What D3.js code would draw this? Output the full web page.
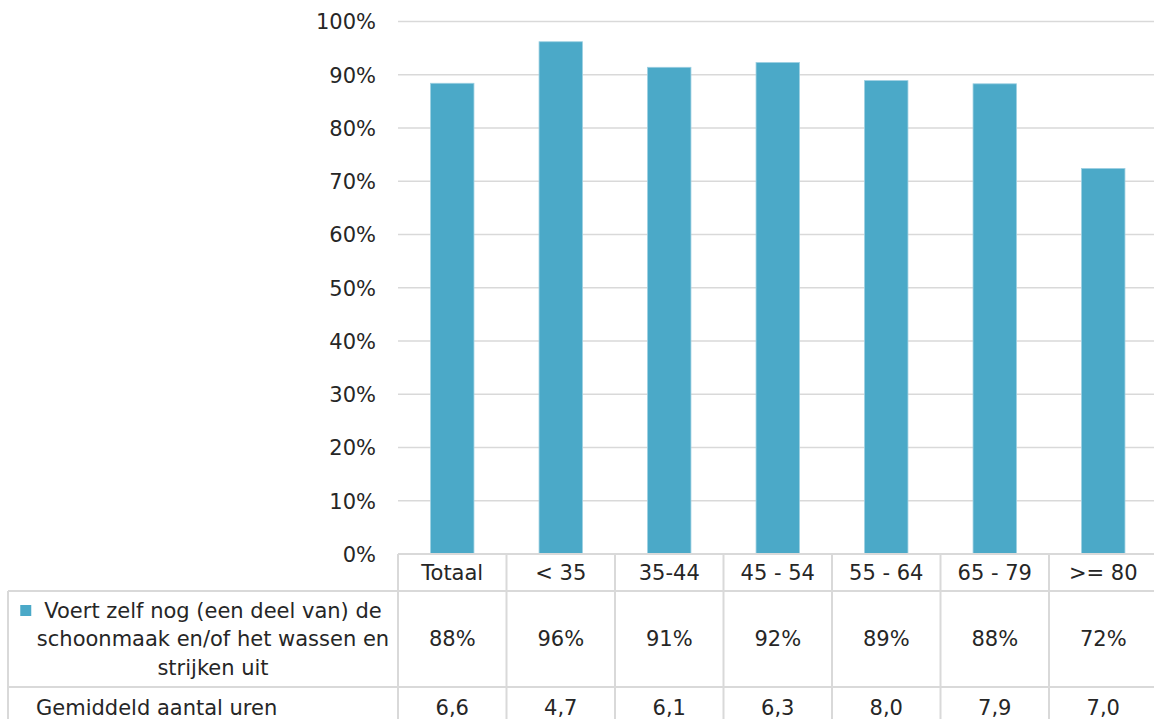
<!DOCTYPE html>
<html>
<head>
<meta charset="utf-8">
<script src="https://cdn.jsdelivr.net/npm/d3@7/dist/d3.min.js"></script>
<style>
  html, body { margin: 0; padding: 0; background: #fff; overflow: hidden; }
  svg { display: block; font-family: "DejaVu Sans", Verdana, sans-serif; }
</style>
</head>
<body>
<svg id="chart" width="1154" height="719"></svg>
<script>
// Age groups and values
const categories = ["Totaal", "< 35", "35-44", "45 - 54", "55 - 64", "65 - 79", ">= 80"];
const shareDoingOwn = [0.884, 0.962, 0.914, 0.923, 0.889, 0.883, 0.724];
const avgHours = [6.6, 4.7, 6.1, 6.3, 8.0, 7.9, 7.0];
const yTicks = [0, 0.1, 0.2, 0.3, 0.4, 0.5, 0.6, 0.7, 0.8, 0.9, 1.0];
const seriesLabel = ["Voert zelf nog (een deel van) de", "schoonmaak en/of het wassen en", "strijken uit"];
const hoursLabel = "Gemiddeld aantal uren";

const W = 1154, H = 719;
// the last column runs slightly past the right edge of the canvas
const plot = { left: 398, right: 1157.5, top: 21.5, bottom: 554 };
const table = { left: 8, row1: 554, row2: 591, row3: 687, bottom: 719 };
const barColor = "#4BA9C8";
const gridColor = "#D9D9D9";
const textColor = "#262626";
const fontSize = 21;

const nl = d3.formatLocale({ decimal: ",", thousands: ".", grouping: [3], currency: ["€", ""] });
const fmtPct = nl.format(".0%");
const fmtHours = nl.format(".1f");

const svg = d3.select("#chart");

const x = d3.scaleBand().domain(categories).range([plot.left, plot.right]).paddingInner(0).paddingOuter(0);
const y = d3.scaleLinear().domain([0, 1]).range([plot.bottom, plot.top]);
const barW = x.bandwidth() * 0.4;

// Gridlines
svg.append("g").selectAll("line").data(yTicks).join("line")
  .attr("x1", plot.left).attr("x2", plot.right)
  .attr("y1", d => y(d)).attr("y2", d => y(d))
  .attr("stroke", gridColor).attr("stroke-width", 1.5);

// Y axis labels
const yAxis = d3.axisLeft(y).tickValues(yTicks).tickFormat(fmtPct).tickSize(0).tickPadding(0);
const gy = svg.append("g").attr("transform", `translate(${plot.left - 22},0)`).call(yAxis);
gy.select(".domain").remove();
gy.selectAll("text")
  .attr("font-size", fontSize).attr("font-family", "DejaVu Sans, Verdana, sans-serif")
  .attr("fill", textColor).attr("dy", "0.35em");

// Bars
svg.append("g").selectAll("rect").data(categories).join("rect")
  .attr("x", (d) => x(d) + (x.bandwidth() - barW) / 2)
  .attr("width", barW)
  .attr("y", (d, i) => y(shareDoingOwn[i]))
  .attr("height", (d, i) => y(0) - y(shareDoingOwn[i]))
  .attr("fill", barColor)
  .attr("stroke", "#9ccfe1").attr("stroke-width", 0.8);

// Data table lines
const tl = svg.append("g").attr("stroke", gridColor).attr("stroke-width", 2);
tl.append("line").attr("x1", plot.left).attr("x2", plot.right).attr("y1", table.row1).attr("y2", table.row1);
[table.row2, table.row3].forEach(yy => {
  tl.append("line").attr("x1", table.left).attr("x2", plot.right).attr("y1", yy).attr("y2", yy);
});
tl.append("line").attr("x1", table.left).attr("x2", table.left).attr("y1", table.row2).attr("y2", table.bottom);
const bounds = categories.map(c => x(c)).concat([plot.right]);
tl.selectAll(".v").data(bounds).join("line")
  .attr("x1", d => d).attr("x2", d => d)
  .attr("y1", table.row1).attr("y2", table.bottom);

// Table text
const tt = svg.append("g").attr("font-size", fontSize).attr("fill", textColor).attr("text-anchor", "middle");
const cx = c => x(c) + x.bandwidth() / 2;
tt.selectAll(".cat").data(categories).join("text")
  .attr("x", cx).attr("y", (table.row1 + table.row2) / 2).attr("dy", "0.35em")
  .text(d => d);
tt.selectAll(".pct").data(categories).join("text")
  .attr("x", cx).attr("y", (table.row2 + table.row3) / 2).attr("dy", "0.35em")
  .text((d, i) => fmtPct(shareDoingOwn[i]));
tt.selectAll(".hrs").data(categories).join("text")
  .attr("x", cx).attr("y", 708).attr("dy", "0.35em")
  .text((d, i) => fmtHours(avgHours[i]));

// Row headers
const legendCx = 213;
const lineGap = 28.5;
const midRow2 = (table.row2 + table.row3) / 2;
const headerNodes = seriesLabel.map((s, i) =>
  tt.append("text")
    .attr("x", legendCx)
    .attr("y", midRow2 + (i - 1) * lineGap).attr("dy", "0.35em")
    .text(s).node()
);
// legend key placed before the first header line
const bb = headerNodes[0].getBBox();
svg.append("rect")
  .attr("x", bb.x - 24).attr("y", midRow2 - lineGap - 5.5)
  .attr("width", 11).attr("height", 11)
  .attr("fill", barColor);

svg.append("text")
  .attr("x", 36).attr("y", 708).attr("dy", "0.35em")
  .attr("font-size", fontSize).attr("fill", textColor)
  .text(hoursLabel);
</script>
</body>
</html>
